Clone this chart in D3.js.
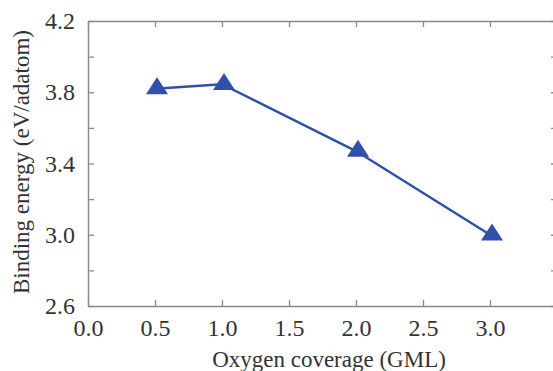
<!DOCTYPE html>
<html><head><meta charset="utf-8">
<script src="https://cdn.jsdelivr.net/npm/d3@7/dist/d3.min.js"></script>
<style>body{margin:0;background:#fff}svg{display:block}</style>
</head><body>
<script>
const coverage = [0.5, 1.0, 2.0, 3.0];
const bindingEnergy = [3.82, 3.845, 3.47, 3.0];
const xTicks = [0.0, 0.5, 1.0, 1.5, 2.0, 2.5, 3.0];
const yTicks = [2.6, 3.0, 3.4, 3.8, 4.2];
const yMinorTicks = [2.8, 3.2, 3.6, 4.0];
const xLabel = "Oxygen coverage (GML)";
const yLabel = "Binding energy (eV/adatom)";

const W = 553, H = 371;
const m = {left: 88, top: 21, right: 557, bottom: 306};
const svg = d3.select("body").append("svg").attr("width", W).attr("height", H);
const x = d3.scaleLinear().domain([0, 3.5]).range([m.left, m.right]);
const y = d3.scaleLinear().domain([2.6, 4.2]).range([m.bottom, m.top]);
const frameColor = "#8a8a8a", blue = "#3050aa";
const FONT = '"Liberation Serif", "Times New Roman", serif';

const allY = yTicks.concat(yMinorTicks);
const tk = 6;
const fmt = d3.format(".1f");

svg.append("g").attr("transform", `translate(0,${m.bottom})`)
  .call(d3.axisBottom(x).tickValues(xTicks).tickFormat(fmt).tickSizeInner(-tk).tickSizeOuter(0).tickPadding(13));
svg.append("g").attr("transform", `translate(0,${m.top})`)
  .call(d3.axisTop(x).tickValues(xTicks).tickFormat("").tickSizeInner(-tk).tickSizeOuter(0));
svg.append("g").attr("transform", `translate(${m.left},0)`)
  .call(d3.axisLeft(y).tickValues(allY).tickFormat(d => yTicks.includes(d) ? fmt(d) : "").tickSizeInner(-tk).tickSizeOuter(0).tickPadding(13));
svg.append("g").attr("transform", `translate(${m.right},0)`)
  .call(d3.axisRight(y).tickValues(allY).tickFormat("").tickSizeInner(-tk).tickSizeOuter(0));

svg.selectAll(".domain").attr("stroke", frameColor).attr("stroke-width", 1.5);
svg.selectAll(".tick line").attr("stroke", frameColor).attr("stroke-width", 1.3);
svg.selectAll(".tick text").attr("font-size", 24).attr("fill", "#333").style("font-family", FONT);

const pts = coverage.map((c, i) => [x(c), y(bindingEnergy[i])]);
svg.append("path").attr("d", d3.line()(pts)).attr("fill", "none").attr("stroke", blue).attr("stroke-width", 2.5);

const tw = 22, th = 17;
svg.selectAll(".mk").data(pts).enter().append("path")
  .attr("d", d => `M${d[0]+2},${d[1]-th*2/3} L${d[0]+2+tw/2},${d[1]+th/3} L${d[0]+2-tw/2},${d[1]+th/3} Z`)
  .attr("fill", blue);

svg.append("text").attr("x", 329).attr("y", 367).attr("text-anchor", "middle")
  .attr("font-size", 23).attr("fill", "#333").style("font-family", FONT).text(xLabel);
svg.append("text").attr("transform", "translate(29,162) rotate(-90)").attr("text-anchor", "middle")
  .attr("font-size", 23).attr("fill", "#333").style("font-family", FONT).text(yLabel);
</script>
</body></html>
